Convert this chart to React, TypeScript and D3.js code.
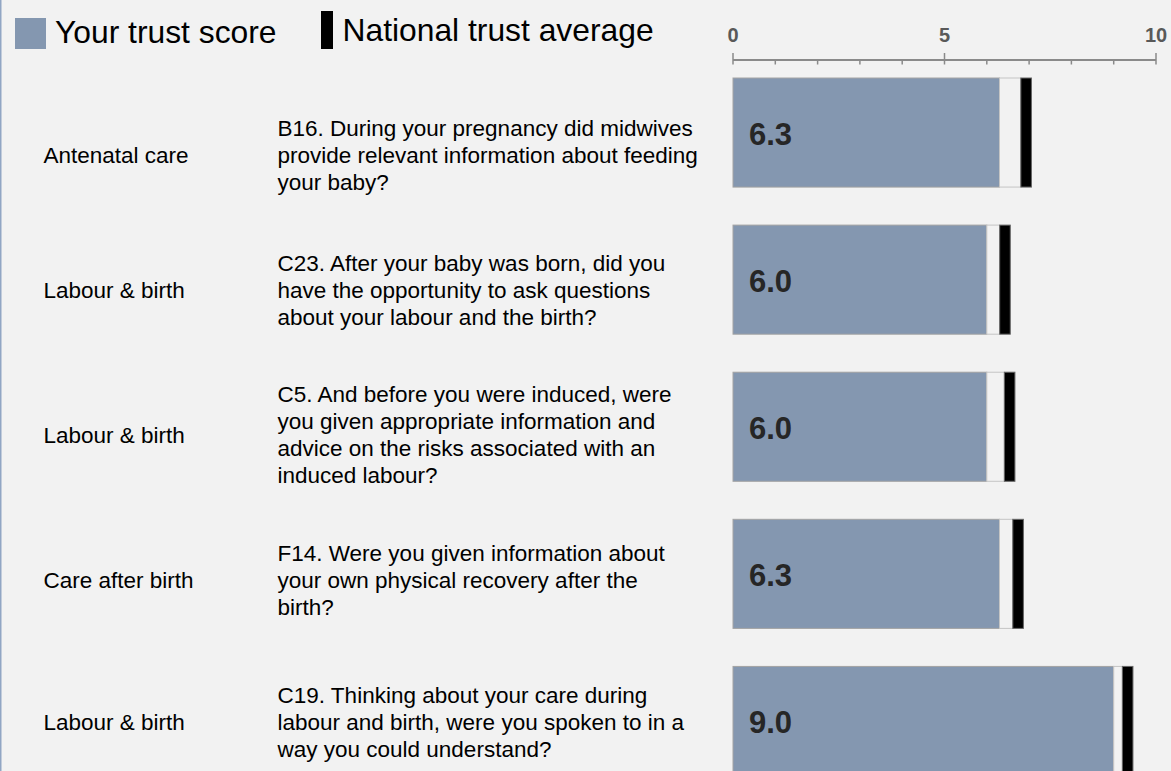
import { useMemo } from "react";
import * as d3 from "d3";

// rows, top to bottom
const categories = ["Antenatal care", "Labour & birth", "Labour & birth", "Care after birth", "Labour & birth"];
const questions = [
    ["B16. During your pregnancy did midwives", "provide relevant information about feeding", "your baby?"],
    ["C23. After your baby was born, did you", "have the opportunity to ask questions", "about your labour and the birth?"],
    ["C5. And before you were induced, were", "you given appropriate information and", "advice on the risks associated with an", "induced labour?"],
    ["F14. Were you given information about", "your own physical recovery after the", "birth?"],
    ["C19. Thinking about your care during", "labour and birth, were you spoken to in a", "way you could understand?"],
];
const trustScores = [6.3, 6.0, 6.0, 6.3, 9.0];
const nationalAverages = [6.93, 6.43, 6.54, 6.74, 9.33];

const axisDomain = [0, 10];
const tickLabels = [0, 5, 10];

const WIDTH = 1171;
const HEIGHT = 771;
const FONT = "'Liberation Sans', Arial, sans-serif";
const BLUE = "#8497b0";
const MARK_HALF = 0.125; // half width of the national average marker, in score units
const LINE_H = 27;
// the text cells don't sit exactly on the bar centres in the original table
const textNudge = [22.5, 10, 8, 6, 1];

export default function App() {
    const x = useMemo(() => d3.scaleLinear().domain(axisDomain).range([733, 1156]), []);
    const y = useMemo(
        () => d3.scaleBand<number>().domain(d3.range(trustScores.length)).range([78, 775.5]).paddingInner(0.2585).paddingOuter(0),
        []
    );
    const minorTicks = x.ticks(10);

    return (
        <svg width={WIDTH} height={HEIGHT} style={{ position: "absolute", left: 0, top: 0 }} fontFamily={FONT}>
            <rect x={0} y={0} width={WIDTH} height={HEIGHT} fill="#f2f2f2" />
            <rect x={0} y={0} width={1.5} height={HEIGHT} fill="#91a6c4" />

            {/* legend */}
            <rect x={15} y={18} width={31} height={31} fill={BLUE} />
            <text x={55} y={43.3} fontSize={31.8} fill="#000">Your trust score</text>
            <rect x={321} y={11} width={12} height={38} fill="#000" />
            <text x={342.5} y={41} fontSize={31.8} fill="#000">National trust average</text>

            {/* axis */}
            <g>
                <line x1={x(0)} x2={x(10)} y1={60} y2={60} stroke="#8a8a8a" strokeWidth={2} />
                {minorTicks.map((t) => (
                    <line key={`m-${t}`} x1={x(t)} x2={x(t)} y1={tickLabels.includes(t) ? 53 : 60} y2={64.5} stroke="#8a8a8a" strokeWidth={1.5} />
                ))}
                {tickLabels.map((t) => (
                    <text key={`l-${t}`} x={x(t)} y={41.7} textAnchor="middle" fontSize={20} fontWeight="bold" fill="#595959">{t}</text>
                ))}
            </g>

            {trustScores.map((score, i) => {
                const top = y(i) ?? 0;
                const h = y.bandwidth();
                const avg = nationalAverages[i];
                const lines = questions[i];
                const mid = top + h / 2 + textNudge[i];
                const firstBase = mid - ((lines.length - 1) * LINE_H) / 2 + 8;
                return (
                    <g key={i}>
                        <rect x={x(0)} y={top} width={x(score) - x(0)} height={h} fill={BLUE} stroke="#a3a3a3" strokeWidth={1} />
                        <rect x={x(score)} y={top} width={x(avg - MARK_HALF) - x(score)} height={h} fill="#f2f2f2" stroke="#c4c4c4" strokeWidth={1} />
                        <rect x={x(avg - MARK_HALF)} y={top} width={x(avg + MARK_HALF) - x(avg - MARK_HALF)} height={h} fill="#000" stroke="#666" strokeWidth={1} />
                        <text x={x(0) + 16} y={top + h / 2 + 12.5} fontSize={31} fontWeight="bold" fill="#262626">{score.toFixed(1)}</text>
                        <text x={43.5} y={mid + 8} fontSize={22.5} fill="#000">{categories[i]}</text>
                        <text x={277.5} y={firstBase} fontSize={22.5} fill="#000">
                            {lines.map((ln, k) => (
                                <tspan key={k} x={277.5} y={firstBase + k * LINE_H}>{ln}</tspan>
                            ))}
                        </text>
                    </g>
                );
            })}
        </svg>
    );
}
